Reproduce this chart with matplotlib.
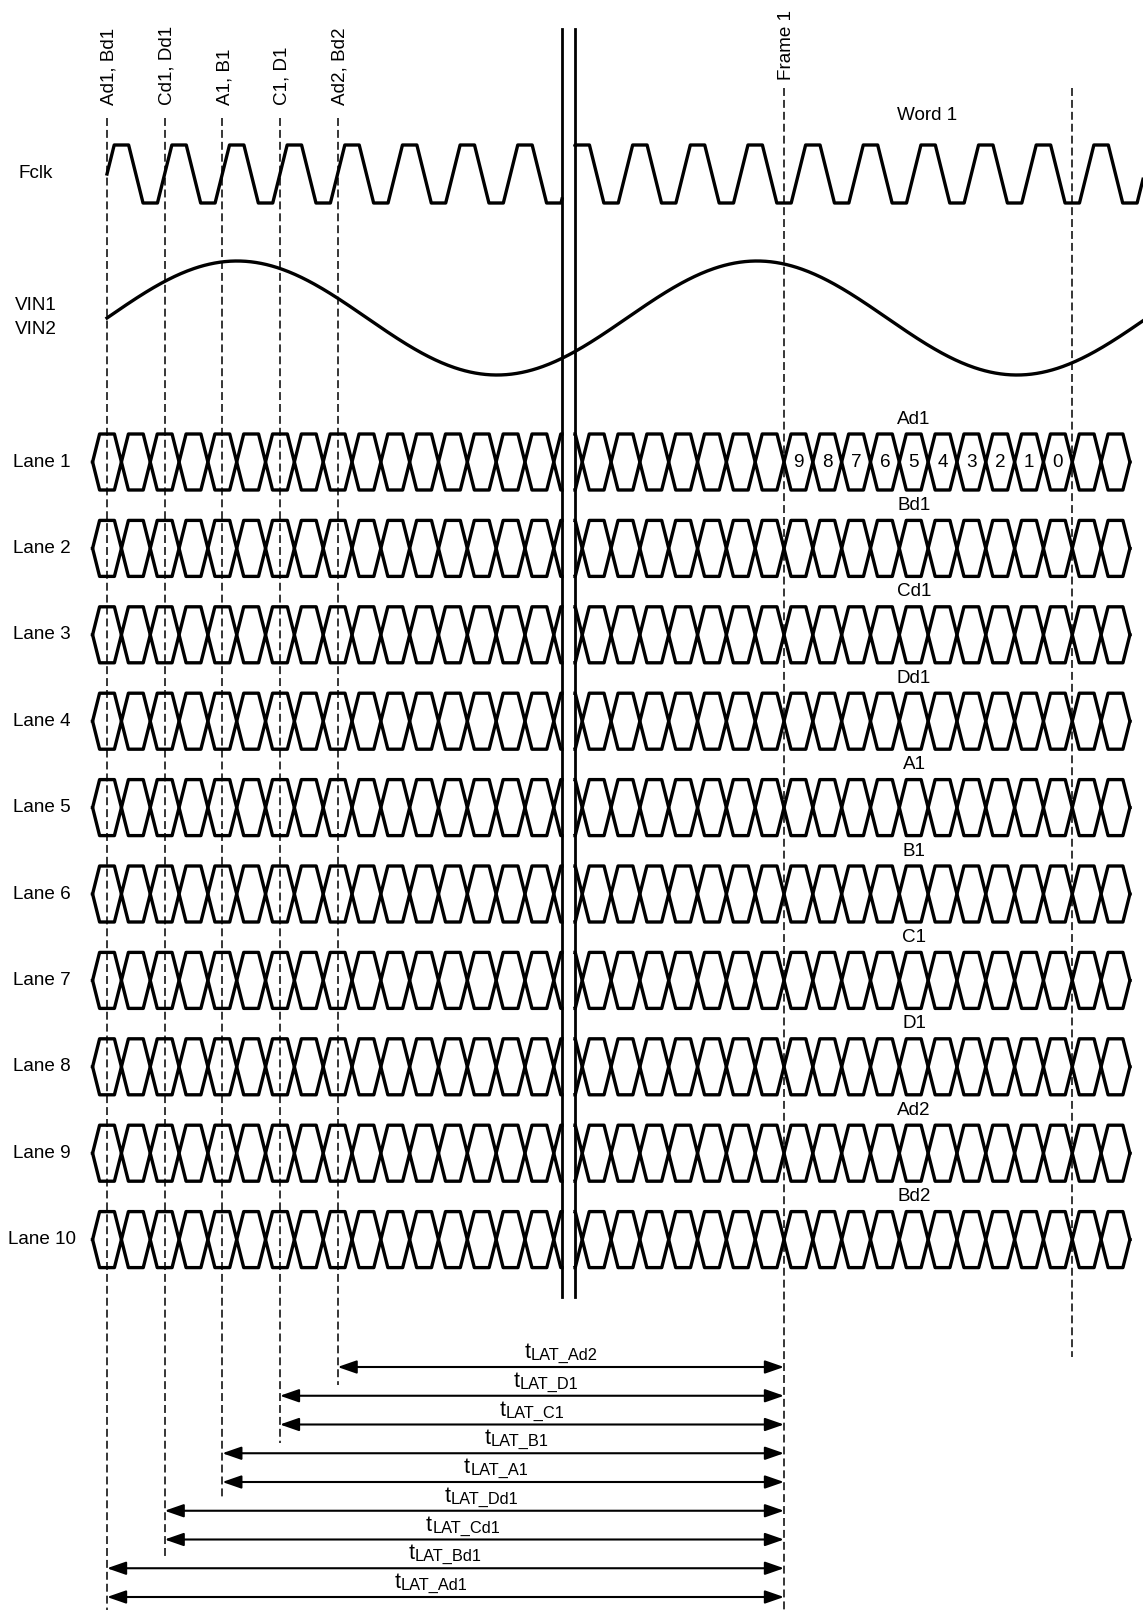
import numpy as np
import matplotlib.pyplot as plt
from matplotlib.patches import FancyArrowPatch

plt.rcParams['font.family'] = ['Liberation Sans', 'DejaVu Sans']

# names and labels
sample_names = ['Ad1, Bd1', 'Cd1, Dd1', 'A1, B1', 'C1, D1', 'Ad2, Bd2']
lane_names = ['Lane 1', 'Lane 2', 'Lane 3', 'Lane 4', 'Lane 5',
              'Lane 6', 'Lane 7', 'Lane 8', 'Lane 9', 'Lane 10']
lane_words = ['Ad1', 'Bd1', 'Cd1', 'Dd1', 'A1', 'B1', 'C1', 'D1', 'Ad2', 'Bd2']
frame_bits = ['9', '8', '7', '6', '5', '4', '3', '2', '1', '0']
lat_names = ['Ad2', 'D1', 'C1', 'B1', 'A1', 'Dd1', 'Cd1', 'Bd1', 'Ad1']
lat_from = [4, 3, 3, 2, 2, 1, 1, 0, 0]   # which sample line each latency starts at

# timing of the drawing (pixels)
x0 = 107.0          # first sample edge
P = 57.65           # Fclk period
B = P / 2           # one serial bit
x_frame = 784.0
x_word_end = x_frame + 10 * B
x_break = (562.0, 575.0)
W, H = 1143, 1610

# waveform levels
clk_hi, clk_lo = 145.0, 203.0
vin_mid, vin_amp, vin_period = 318.0, 57.0, 520.0
lane_y0, lane_step, eye = 462.0, 86.4, 28.0
h_tr = 7.0
arrow_y0, arrow_step = 1367.0, 28.75
lat_label_x = [561, 546, 532, 517, 496, 481, 463, 445, 431]

fig = plt.figure(figsize=(W / 100, H / 100), dpi=100)
ax = fig.add_axes([0, 0, 1, 1])
ax.set_xlim(0, W)
ax.set_ylim(H, 0)
ax.axis('off')

LW = 2.4
FS = 13.6
dash = (0, (5.2, 2.6))


def clip_poly(vx, vy, xa, xb):
    vx = np.asarray(vx)
    vy = np.asarray(vy)
    inside = (vx > xa) & (vx < xb)
    xs = np.concatenate([[xa], vx[inside], [xb]])
    return xs, np.interp(xs, vx, vy)


def clock(rise0, xa, xb):
    vx, vy = [], []
    for k in range(-3, 25):
        c = rise0 + k * P
        vx += [c - P / 8, c + P / 8, c + 3 * P / 8, c + 5 * P / 8]
        vy += [clk_lo, clk_hi, clk_hi, clk_lo]
    return clip_poly(vx, vy, xa, xb)


def eye_lines(c0, n, yc, xa, xb):
    cr = c0 + np.arange(n + 1) * B
    vx, up, lo = [], [], []
    for k in range(n):
        vx += [cr[k], cr[k] + h_tr, cr[k + 1] - h_tr]
        up += [yc, yc - eye, yc - eye]
        lo += [yc, yc + eye, yc + eye]
    vx.append(cr[n])
    up.append(yc)
    lo.append(yc)
    return clip_poly(vx, up, xa, xb), clip_poly(vx, lo, xa, xb)


# Fclk
for rise0, xa, xb in [(x0, x0, x_break[0]), (x_frame - 0.75 * P, x_break[1], W)]:
    xs, ys = clock(rise0, xa, xb)
    ax.plot(xs, ys, color='black', lw=LW, solid_joinstyle='round')

# VIN sine
xv = np.linspace(x0, W, 800)
ax.plot(xv, vin_mid - vin_amp * np.sin(2 * np.pi * (xv - x0) / vin_period),
        color='black', lw=LW)

# lanes
for i, name in enumerate(lane_names):
    yc = lane_y0 + i * lane_step
    for c0, n, xa, xb in [(x0 - B / 2, 17, x0 - B / 2, x_break[0]),
                          (x_frame - 8 * B, 20, x_break[1], x_frame + 12 * B)]:
        (ux, uy), (lx, ly) = eye_lines(c0, n, yc, xa, xb)
        ax.plot(ux, uy, color='black', lw=LW, solid_joinstyle='round')
        ax.plot(lx, ly, color='black', lw=LW, solid_joinstyle='round')
    ax.text(42, yc, name, ha='center', va='center', fontsize=FS)
    ax.text(914, yc - 43, lane_words[i], ha='center', va='center', fontsize=FS)

for k, b in enumerate(frame_bits):
    ax.text(x_frame + B / 2 + k * B, lane_y0, b, ha='center', va='center', fontsize=FS)

# break lines
for xb in x_break:
    ax.plot([xb, xb], [29, 1297], color='black', lw=2.0)

# dashed sample lines and labels
arrow_ys = [arrow_y0 + j * arrow_step for j in range(len(lat_names))]
for s, name in enumerate(sample_names):
    xs = x0 + s * P
    rows = [arrow_ys[j] for j in range(len(lat_from)) if lat_from[j] == s]
    yend = H if s == 0 else max(rows) + 18
    ax.plot([xs, xs], [118, yend], color='black', lw=1.1, linestyle=dash)
    ax.text(xs + 6.8, 105, name, rotation=90, rotation_mode='anchor',
            ha='left', va='baseline', fontsize=FS)

ax.plot([x_frame, x_frame], [88, H], color='black', lw=1.1, linestyle=dash)
ax.text(x_frame + 6.8, 80, 'Frame 1', rotation=90, rotation_mode='anchor',
        ha='left', va='baseline', fontsize=FS)
ax.plot([x_word_end, x_word_end], [88, 1357], color='black', lw=1.1, linestyle=dash)
ax.text(927, 115, 'Word 1', ha='center', va='center', fontsize=FS)

# signal names
ax.text(35.5, 173, 'Fclk', ha='center', va='center', fontsize=FS)
ax.text(35.5, 306, 'VIN1', ha='center', va='center', fontsize=FS)
ax.text(35.5, 330, 'VIN2', ha='center', va='center', fontsize=FS)

# latency arrows
renderer = fig.canvas.get_renderer()
for j, name in enumerate(lat_names):
    y = arrow_ys[j]
    xs = x0 + lat_from[j] * P
    arr = FancyArrowPatch((xs, y), (x_frame, y),
                          arrowstyle='<|-|>,head_length=11.5,head_width=4',
                          mutation_scale=1, lw=1.5, color='black',
                          shrinkA=0, shrinkB=0)
    ax.add_patch(arr)
    t1 = ax.text(0, y - 9, 't', ha='left', va='baseline', fontsize=15.5)
    t2 = ax.text(0, y - 7, 'LAT_' + name, ha='left', va='baseline', fontsize=11.8)
    w1 = t1.get_window_extent(renderer).width
    w2 = t2.get_window_extent(renderer).width
    left = lat_label_x[j] - (w1 + w2) / 2
    t1.set_x(left)
    t2.set_x(left + w1)

fig.savefig('out.png', dpi=100)
